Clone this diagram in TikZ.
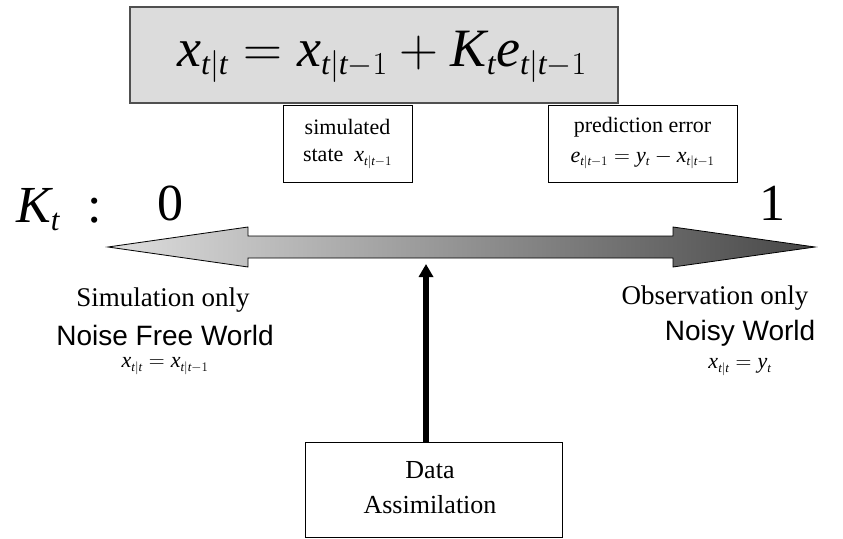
\RequirePackage{fix-cm}
\documentclass[tikz,border=0pt]{standalone}
\usepackage{fontspec}
\setmainfont{Liberation Serif}
\newfontfamily\arialfont{Liberation Sans}
\usetikzlibrary{arrows.meta,calc}
\definecolor{boxgray}{HTML}{DCDCDC}
\definecolor{framegray}{HTML}{505050}
\definecolor{lightend}{HTML}{DEDEDE}
\definecolor{darkend}{HTML}{474747}
\DeclareMathSizes{54}{54}{32}{25}
\DeclareMathSizes{52}{52}{31}{24}
\DeclareMathSizes{22}{22}{13}{10}
\newcommand{\mv}[1]{\mathit{#1}}
\newcommand{\fsz}[1]{\fontsize{#1}{1.2\dimexpr#1pt\relax}\selectfont}
\tikzset{textbox/.style={draw,line width=.8pt,inner sep=0pt},
  small/.style={font=\fsz{22}},
  body/.style={font=\fsz{27}},
  arial/.style={font=\arialfont\fsz{28}},
  big/.style={font=\fsz{52}}}

\begin{document}
\begin{tikzpicture}[x=1pt,y=-1pt,>=Triangle]
  \useasboundingbox (0,0) rectangle (843,538);
  % update equation
  \node[textbox,fill=boxgray,draw=framegray,line width=1.5pt,minimum width=488pt,minimum height=96pt]
      (eqbox) at (374,55) {};
  \node[font=\fsz{54}] (eq) at (382,57) {$\mv{x}_{\mv{t}|\mv{t}} = \mv{x}_{\mv{t}|\mv{t}-1} + \mv{K}_{\mv{t}}\mv{e}_{\mv{t}|\mv{t}-1}$};
  \node[textbox,minimum width=129pt,minimum height=77pt] (simbox) at (347.5,143.5) {};
  \node[small] (simtop) at (347.5,127) {simulated};
  \node[small] (simbot) at (347.5,159) {state\ \ $\mv{x}_{\mv{t}|\mv{t}-1}$};
  \node[textbox,minimum width=189pt,minimum height=77pt] (errbox) at (642.5,143.5) {};
  \node[small] (errtop) at (642.5,127) {prediction error};
  \node[small] (errbot) at (642.5,159) {$\mv{e}_{\mv{t}|\mv{t}-1} = \mv{y}_{\mv{t}} - \mv{x}_{\mv{t}|\mv{t}-1}$};
  % gain scale
  \node[big] (gain) at (38,210) {$\mv{K}_{\mv{t}}$};
  \node[big] (colon) at (95,211) {:};
  \node[big] (zero) at (170,203) {0};
  \node[big] (one) at (772,203) {1};
  \draw[line width=.8pt,left color=lightend,right color=darkend]
      (108,247) -- (248,227) -- (248,236) -- (673,236) -- (673,227) -- (815,247)
      -- (673,267) -- (673,258) -- (248,258) -- (248,267) -- cycle;
  \coordinate (scale) at (426,264);
  % extremes
  \node[body] (simonly) at (163,300) {Simulation only};
  \node[arial] (noisefree) at (165,335) {Noise Free World};
  \node[small] (simeq) at (165,366) {$\mv{x}_{\mv{t}|\mv{t}} = \mv{x}_{\mv{t}|\mv{t}-1}$};
  \node[body] (obsonly) at (715,298) {Observation only};
  \node[arial] (noisy) at (740,333) {Noisy World};
  \node[small] (obseq) at (740,367) {$\mv{x}_{\mv{t}|\mv{t}} = \mv{y}_{\mv{t}}$};
  % data assimilation
  \node[textbox,minimum width=257pt,minimum height=95pt] (dabox) at (433.5,489.5) {};
  \node[font=\fsz{26}] (datop) at (430,470) {Data};
  \node[font=\fsz{26}] (dabot) at (430,505) {Assimilation};
  \draw[line width=6.5pt,{Triangle[length=13pt,width=14pt]}-{}] (scale) -- (scale |- dabox.north);
\end{tikzpicture}
\end{document}
